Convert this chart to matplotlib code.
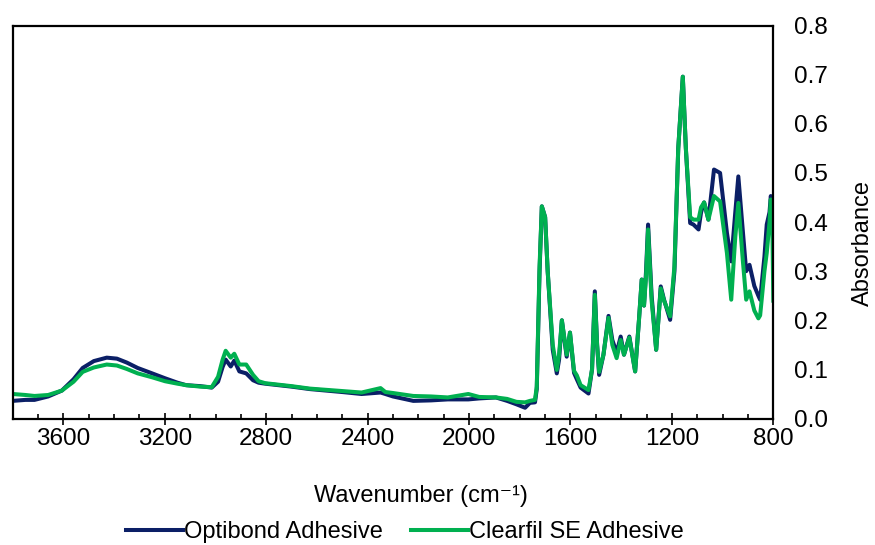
import matplotlib.pyplot as plt
from matplotlib.ticker import MultipleLocator

plt.rcParams['font.family'] = ['Liberation Sans', 'DejaVu Sans']

# FTIR spectra (wavenumber in cm-1, absorbance)
wavenumber = [3800, 3750, 3714, 3660, 3606, 3560, 3524, 3480, 3429, 3389,
              3350, 3307, 3250, 3199, 3150, 3116, 3060, 3015, 2990, 2972,
              2960, 2940, 2926, 2906, 2879, 2852, 2830, 2804, 2700, 2628,
              2500, 2424, 2349, 2330, 2300, 2220, 2150, 2084, 2003, 1960,
              1894, 1850, 1813, 1779, 1760, 1740, 1733, 1722, 1713, 1700,
              1690, 1670, 1654, 1645, 1634, 1615, 1602, 1586, 1575, 1560,
              1529, 1515, 1504, 1495, 1487, 1470, 1450, 1435, 1418, 1402,
              1389, 1368, 1345, 1330, 1319, 1310, 1302, 1294, 1280, 1262,
              1244, 1231, 1207, 1190, 1175, 1157, 1145, 1128, 1115, 1095,
              1085, 1073, 1056, 1034, 1010, 983, 966, 950, 938, 920,
              907, 894, 875, 859, 852, 835, 826, 815, 810, 804, 800]

optibond = [0.036, 0.038, 0.038, 0.045, 0.057, 0.080, 0.103, 0.117, 0.124, 0.122,
            0.114, 0.103, 0.092, 0.082, 0.073, 0.068, 0.066, 0.063, 0.075, 0.105,
            0.120, 0.106, 0.118, 0.096, 0.092, 0.078, 0.073, 0.071, 0.065, 0.060,
            0.054, 0.050, 0.053, 0.050, 0.045, 0.036, 0.037, 0.039, 0.039, 0.041,
            0.043, 0.036, 0.029, 0.022, 0.032, 0.033, 0.060, 0.300, 0.432, 0.410,
            0.300, 0.140, 0.092, 0.120, 0.200, 0.126, 0.175, 0.093, 0.080, 0.063,
            0.051, 0.100, 0.259, 0.150, 0.089, 0.130, 0.209, 0.160, 0.134, 0.167,
            0.130, 0.167, 0.096, 0.200, 0.283, 0.230, 0.300, 0.395, 0.250, 0.140,
            0.269, 0.242, 0.201, 0.300, 0.550, 0.696, 0.550, 0.398, 0.395, 0.385,
            0.420, 0.440, 0.405, 0.507, 0.500, 0.378, 0.320, 0.420, 0.493, 0.380,
            0.300, 0.313, 0.270, 0.250, 0.242, 0.330, 0.395, 0.420, 0.453, 0.440, 0.425]

clearfil = [0.050, 0.048, 0.046, 0.048, 0.057, 0.075, 0.095, 0.104, 0.110, 0.108,
            0.101, 0.092, 0.084, 0.076, 0.071, 0.068, 0.065, 0.064, 0.085, 0.120,
            0.138, 0.124, 0.132, 0.110, 0.110, 0.089, 0.076, 0.072, 0.066, 0.061,
            0.056, 0.053, 0.062, 0.054, 0.052, 0.046, 0.045, 0.043, 0.050, 0.044,
            0.043, 0.040, 0.034, 0.033, 0.036, 0.038, 0.065, 0.310, 0.432, 0.410,
            0.300, 0.150, 0.099, 0.130, 0.200, 0.130, 0.175, 0.097, 0.088, 0.068,
            0.058, 0.100, 0.252, 0.150, 0.095, 0.130, 0.205, 0.150, 0.123, 0.160,
            0.130, 0.165, 0.096, 0.200, 0.283, 0.230, 0.290, 0.385, 0.240, 0.140,
            0.265, 0.240, 0.208, 0.310, 0.550, 0.696, 0.550, 0.410, 0.405, 0.405,
            0.430, 0.440, 0.405, 0.453, 0.442, 0.337, 0.242, 0.370, 0.439, 0.320,
            0.242, 0.259, 0.220, 0.204, 0.210, 0.300, 0.337, 0.400, 0.446, 0.400, 0.240]

fig = plt.figure(figsize=(8.75, 5.45), dpi=100)
ax = fig.add_axes([0.0145, 0.232, 0.8693, 0.721])

ax.plot(wavenumber, optibond, color='#0b1f66', linewidth=2.9, label='Optibond Adhesive',
        solid_joinstyle='round')
ax.plot(wavenumber, clearfil, color='#00b050', linewidth=2.9, label='Clearfil SE Adhesive',
        solid_joinstyle='round')

ax.set_xlim(3800, 800)
ax.set_ylim(0, 0.8)
ax.xaxis.set_major_locator(MultipleLocator(400))
ax.xaxis.set_minor_locator(MultipleLocator(100))
ax.yaxis.set_major_locator(MultipleLocator(0.1))
ax.yaxis.set_major_formatter(plt.FuncFormatter(lambda v, p: f'{v:.1f}'))

ax.yaxis.tick_right()
ax.yaxis.set_label_position('right')
ax.tick_params(axis='y', which='both', length=0, pad=15, labelsize=17.5)
ax.tick_params(axis='x', which='major', direction='inout', length=8, width=1.2, pad=3, labelsize=17.5)
ax.tick_params(axis='x', which='minor', direction='in', length=3.5, width=1.2)

for s in ax.spines.values():
    s.set_linewidth(1.6)
    s.set_color('black')

ax.set_ylabel('Absorbance', fontsize=17, rotation=90)
ax.yaxis.set_label_coords((851.7 - 12.7) / 760.6, 0.448)
ax.set_xlabel('Wavenumber (cm⁻¹)', fontsize=17)
ax.xaxis.set_label_coords((421 - 12.7) / 760.6, -0.17)

fig.legend(loc='center', bbox_to_anchor=(405 / 875, 0.024), ncol=2, frameon=False,
           fontsize=17, handlelength=2.4, handletextpad=0.05, columnspacing=1.2,
           borderaxespad=0)

plt.savefig('out.png', dpi=100)
